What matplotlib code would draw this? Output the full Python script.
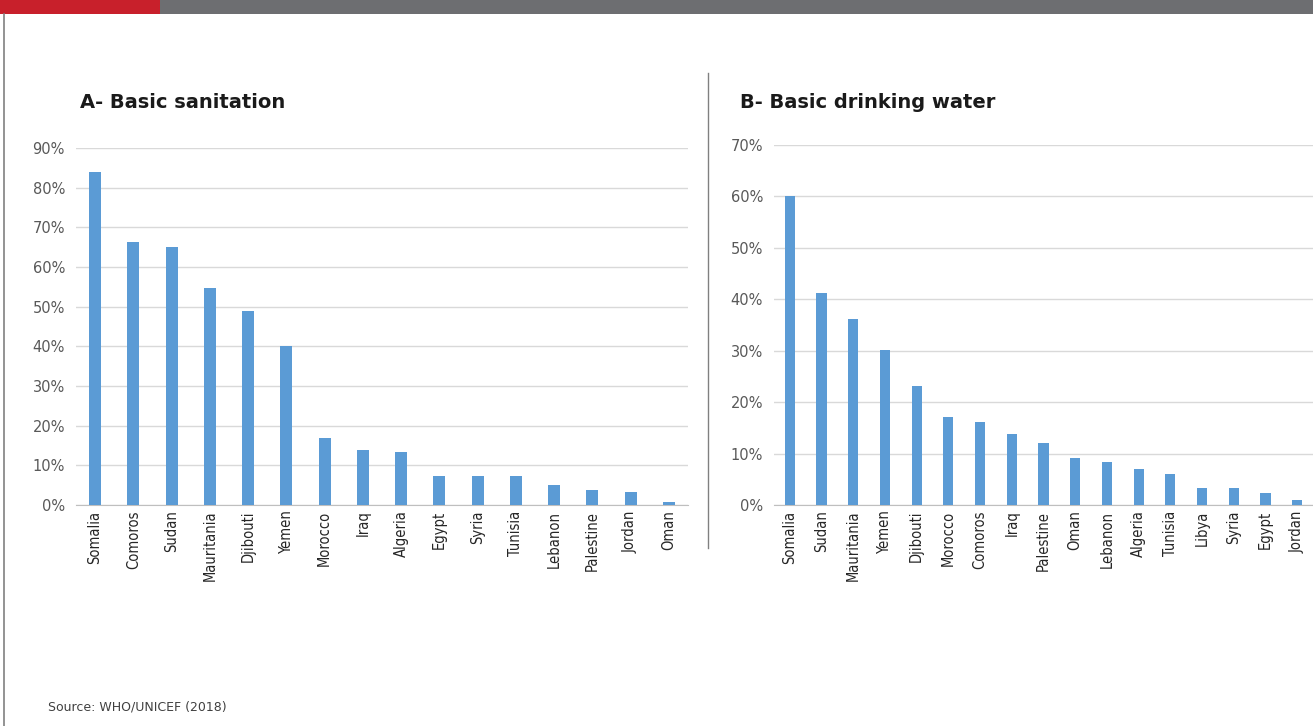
import numpy as np
import matplotlib.pyplot as plt
from matplotlib.patches import Rectangle
from matplotlib.lines import Line2D

# A - basic sanitation (share without access)
san_countries = ['Somalia', 'Comoros', 'Sudan', 'Mauritania', 'Djibouti', 'Yemen', 'Morocco', 'Iraq',
                 'Algeria', 'Egypt', 'Syria', 'Tunisia', 'Lebanon', 'Palestine', 'Jordan', 'Oman']
san_values = [83.9, 66.2, 65.0, 54.8, 49.0, 40.2, 16.9, 13.9, 13.4, 7.3, 7.3, 7.3, 5.0, 3.8, 3.3, 0.8]

# B - basic drinking water
wat_countries = ['Somalia', 'Sudan', 'Mauritania', 'Yemen', 'Djibouti', 'Morocco', 'Comoros', 'Iraq',
                 'Palestine', 'Oman', 'Lebanon', 'Algeria', 'Tunisia', 'Libya', 'Syria', 'Egypt', 'Jordan']
wat_values = [60.1, 41.2, 36.1, 30.1, 23.2, 17.1, 16.2, 13.9, 12.1, 9.2, 8.3, 7.0, 6.1, 3.3, 3.3, 2.3, 1.0]

bar_color = '#5b9bd5'
grid_color = '#d9d9d9'
text_color = '#595959'

W, H = 1313, 726
fig = plt.figure(figsize=(W / 100, H / 100), dpi=100)


def px(x0, y0, x1, y1):
    # pixel box (top-left origin) -> figure fraction rect
    return [x0 / W, 1 - y1 / H, (x1 - x0) / W, (y1 - y0) / H]


# header band and frame
fig.add_artist(Rectangle((0, 1 - 14 / H), 1, 14 / H, transform=fig.transFigure, color='#6d6e71', lw=0))
fig.add_artist(Rectangle((0, 1 - 14 / H), 160 / W, 14 / H, transform=fig.transFigure, color='#c8202b', lw=0))
fig.add_artist(Line2D([3.5 / W, 3.5 / W], [0, 1 - 14 / H], transform=fig.transFigure, color='#808080', lw=1.2))
fig.add_artist(Line2D([707.5 / W, 707.5 / W], [1 - 73 / H, 1 - 548 / H], transform=fig.transFigure,
                      color='#808080', lw=1))


def panel(rect, cats, vals, ymax, title, title_x):
    ax = fig.add_axes(px(*rect))
    x = np.arange(len(cats))
    ax.bar(x, vals, width=0.32, color=bar_color, zorder=3)
    ax.set_xlim(-0.5, len(cats) - 0.5)
    ax.set_ylim(0, ymax)
    ax.set_yticks(np.arange(0, ymax + 1, 10))
    ax.set_yticklabels([f'{v}%' for v in range(0, ymax + 1, 10)], fontsize=10.5, color=text_color)
    ax.set_xticks(x)
    ax.set_xticklabels(cats, rotation=90, fontsize=10.5, color='#262626', fontstretch='condensed')
    ax.tick_params(axis='x', length=0, pad=4)
    ax.tick_params(axis='y', length=0, pad=8)
    ax.grid(axis='y', color=grid_color, lw=1, zorder=0)
    for s in ['top', 'right', 'left']:
        ax.spines[s].set_visible(False)
    ax.spines['bottom'].set_color('#bfbfbf')
    fig.text(title_x / W, 1 - 102 / H, title, fontsize=14, fontweight='bold', color='#1a1a1a', va='center')
    return ax


panel((76, 148, 688, 505), san_countries, san_values, 90, 'A- Basic sanitation', 80)
panel((774, 145, 1313, 505), wat_countries, wat_values, 70, 'B- Basic drinking water', 740)

fig.text(48 / W, 1 - 707 / H, 'Source: WHO/UNICEF (2018)', fontsize=9, color='#404040', va='center')

fig.savefig('out.png', dpi=100)
